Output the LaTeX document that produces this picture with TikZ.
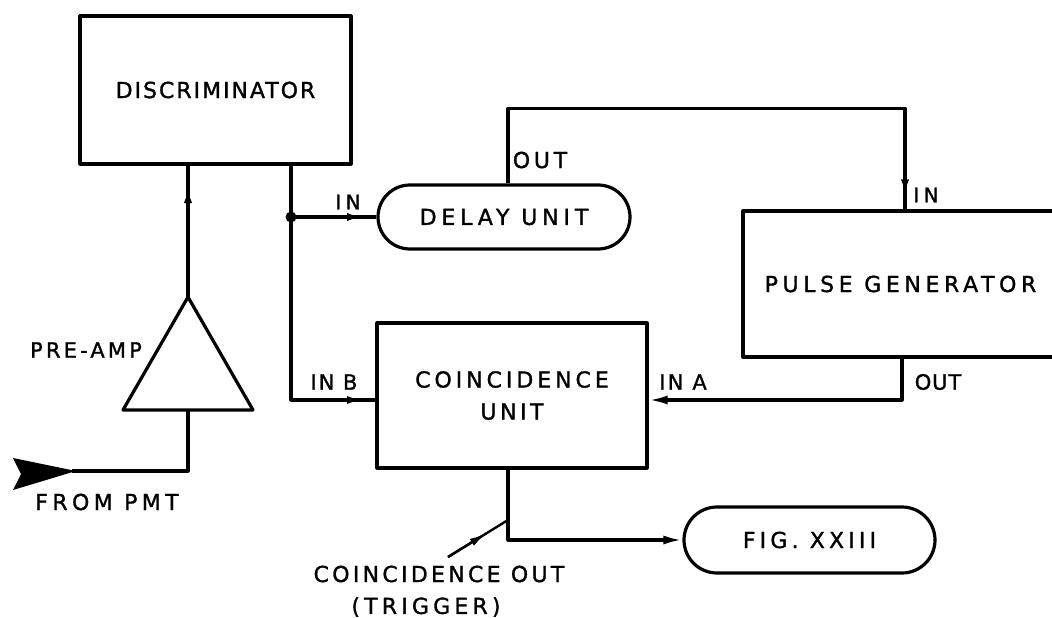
\documentclass[tikz,border=0pt]{standalone}
\usepackage{fontspec}
\newfontfamily\labfont[FakeBold=1.3]{DejaVu Sans}
\usetikzlibrary{shapes.misc,arrows.meta,calc}
\newcommand\lsp[1]{\addfontfeature{LetterSpace=#1}}
\begin{document}
\begin{tikzpicture}[x=1pt,y=-1pt,line width=3.2pt,line join=round,
  txt/.style={font={\labfont\fontsize{22}{32}\selectfont},inner sep=0pt,anchor=center},
  smalltxt/.style={font={\labfont\fontsize{20}{24}\selectfont},inner sep=0pt,anchor=center},
  box/.style={draw,rectangle,inner sep=0pt,align=center,font={\labfont\fontsize{22}{32}\selectfont}},
  pill/.style={draw,rounded rectangle,inner sep=0pt,font={\labfont\fontsize{22}{32}\selectfont}},
  endtip/.style={-{Latex[length=19pt,width=9pt]}},
  midtip/.style={-{Latex[length=17pt,width=8pt]}}]
\useasboundingbox (0,0) rectangle (1052,618);

% blocks
\node[box,minimum width=271pt,minimum height=148pt] (disc) at (215.5,90) {\lsp{9}DISCRIMINATOR};
\node[pill,minimum width=252pt,minimum height=64pt] (delay) at (504,217) {\lsp{22}DELAY UNIT};
\node[box,minimum width=315pt,minimum height=146pt] (pulse) at (900.5,284) {\lsp{21}PULSE GENERATOR};
\node[box,minimum width=270pt,minimum height=145pt] (coinc) at (512,395.5) {\lsp{18}COINCIDENCE\\\lsp{16}UNIT};
\node[pill,minimum width=251pt,minimum height=66pt] (fig) at (809.5,540) {\lsp{19}FIG. XXIII};

% pre-amp triangle
\coordinate (apex) at (188,297);
\coordinate (tribase) at (188,410);
\draw (apex) -- (123,410) -- (253,410) -- cycle;

% coordinates
\coordinate (jn) at (291,217);
\coordinate (inrow) at (0,400);
\coordinate (pmt) at (72,471);
\coordinate (trig) at (508,520);
\coordinate (trigtail) at (448,557);

% connectors
\fill (13,458) -- (76,471) -- (13,490) -- (21,474) -- cycle;
\draw (pmt) -| (tribase);
\draw (apex) -- (apex |- disc.south);
\draw[midtip] (apex) -- ++(0,-111);
\draw (disc.south -| jn) -- (jn);
\fill (jn) circle (5.5pt);
\draw (jn) -- (jn -| delay.west);
\draw[midtip] (jn) -- ++(73,0);
\draw (jn) |- (coinc.west |- inrow);
\draw[midtip] (jn |- inrow) -- ++(73,0);
\draw ([xshift=4pt]delay.north) -- ++(0,-75) -| ([xshift=4.5pt]pulse.north);
\draw[midtip] ([xshift=4.5pt]pulse.north) ++(0,-60) -- ++(0,47);
\draw[endtip] ([xshift=1.5pt]pulse.south) |- (coinc.east |- inrow);
\draw[endtip] ([xshift=-4pt]coinc.south) |- (fig.west);
\draw[line width=2.4pt] (trigtail) -- (trig);
\draw[midtip,line width=2.4pt] (trigtail) -- ($(trigtail)!0.64!(trig)$);

% labels
\node[txt,font={\labfont\fontsize{21}{24}\selectfont}] (lpre) at (86,350) {\lsp{15}PRE-AMP};
\node[txt] (lpmt) at (107,502) {\lsp{20}FROM PMT};
\node[smalltxt] (lin1) at (348,202) {\lsp{22}IN};
\node[txt] (lout1) at (540,160) {\lsp{17}OUT};
\node[smalltxt] (lin2) at (926,195) {\lsp{22}IN};
\node[txt,font={\labfont\fontsize{21}{24}\selectfont}] (linb) at (334,382) {\lsp{9}IN B};
\node[txt,font={\labfont\fontsize{21}{24}\selectfont}] (lina) at (683,382) {\lsp{11}IN A};
\node[txt,font={\labfont\fontsize{21}{24}\selectfont}] (lout2) at (938,382) {\lsp{4}OUT};
\node[txt] (lco) at (439,574) {\lsp{15}COINCIDENCE OUT};
\node[txt] (ltrig) at (426,607) {\lsp{19}(TRIGGER)};
\end{tikzpicture}
\end{document}
